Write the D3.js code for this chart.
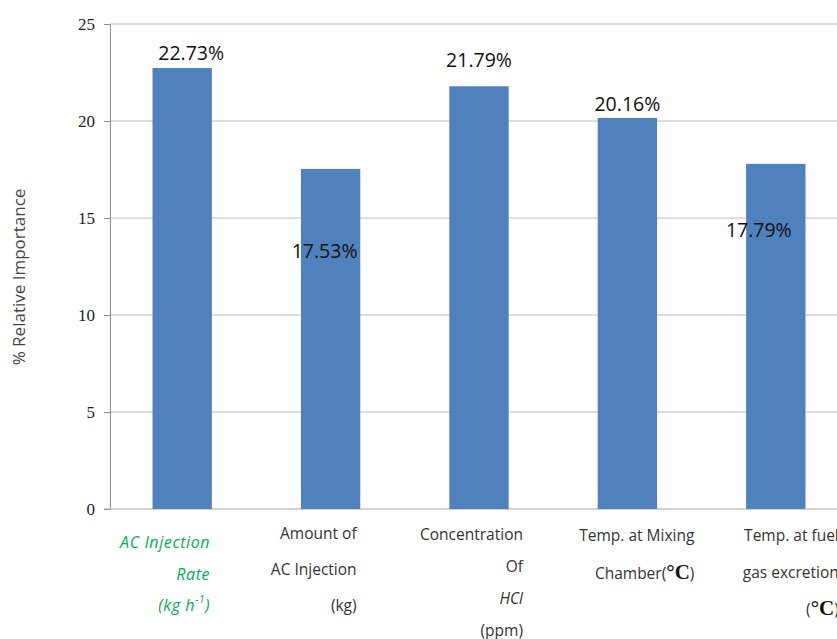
<!DOCTYPE html>
<html>

<head>
    <meta charset="UTF-8">
    <title>Relative importance</title>
    <style>
        body {
            margin: 0;
            background: #fff;
        }

        svg {
            display: block;
            overflow: hidden;
        }

        text.value {
            font-family: "Open Sans", sans-serif;
            font-size: 19.5px;
            fill: #111;
            text-anchor: middle;
        }

        text.cat {
            font-family: "Open Sans", sans-serif;
            font-size: 15.5px;
            fill: #333;
            text-anchor: end;
        }

        text.ytick {
            font-family: "Liberation Serif", "DejaVu Serif", serif;
            font-size: 17px;
            fill: #222;
        }
    </style>
</head>

<body>
    <svg id="chart" width="837" height="639"></svg>

    <script src="https://d3js.org/d3.v7.min.js"></script>

    <script>
        // values
        var categories = ["rate", "amount", "hcl", "mixing", "flue"];
        var importance = [22.73, 17.53, 21.79, 20.16, 17.79];
        var valueLabels = ["22.73%", "17.53%", "21.79%", "20.16%", "17.79%"];
        var yTicks = [0, 5, 10, 15, 20, 25];

        var svg = d3.select("#chart"),
            width = +svg.attr("width"),
            height = +svg.attr("height");

        // window.top is read-only, so the plot edges get their own names
        var plotLeft = 110, plotTop = 24, plotBottom = 509;

        var x = d3.scaleBand()
            .domain(categories)
            .range([plotLeft - 2, 850])
            .paddingInner(0.6)
            .paddingOuter(0.3);

        var y = d3.scaleLinear()
            .domain([0, 25])
            .range([plotBottom, plotTop]);

        // grid lines
        svg.append("g")
            .selectAll("line")
            .data(yTicks.filter(d => d > 0))
            .join("line")
            .attr("x1", plotLeft)
            .attr("x2", width)
            .attr("y1", d => y(d))
            .attr("y2", d => y(d))
            .attr("stroke", "#bcbcbc")
            .attr("stroke-width", 1);

        // y axis
        var yAxis = svg.append("g")
            .attr("transform", "translate(" + plotLeft + ",0)")
            .call(d3.axisLeft(y).tickValues(yTicks).tickSize(6).tickPadding(9).tickFormat(d3.format("d")));
        yAxis.attr("font-family", null).attr("font-size", null);
        yAxis.select(".domain").attr("stroke", "#8c8c8c");
        yAxis.selectAll(".tick line").attr("stroke", "#8c8c8c");
        yAxis.selectAll(".tick text").attr("class", "ytick").attr("fill", null);

        // baseline
        svg.append("line")
            .attr("x1", plotLeft - 6)
            .attr("x2", width)
            .attr("y1", y(0))
            .attr("y2", y(0))
            .attr("stroke", "#a6a6a6");

        // bars
        svg.append("g")
            .selectAll("rect")
            .data(importance)
            .join("rect")
            .attr("x", (d, i) => x(categories[i]))
            .attr("y", d => y(d))
            .attr("width", x.bandwidth())
            .attr("height", d => y(0) - y(d))
            .attr("fill", "#4f81bd");

        // data labels were placed by hand in the original
        var labelDx = [9, -6, 0, 0, -17];
        var labelDy = [-8, 89, -19, -7, 73];
        svg.append("g")
            .selectAll("text")
            .data(importance)
            .join("text")
            .attr("class", "value")
            .attr("x", (d, i) => x(categories[i]) + x.bandwidth() / 2 + labelDx[i])
            .attr("y", (d, i) => y(d) + labelDy[i])
            .text((d, i) => valueLabels[i]);

        // y title
        svg.append("text")
            .attr("transform", "translate(25,277) rotate(-90)")
            .attr("text-anchor", "middle")
            .style("font-family", "Open Sans, sans-serif")
            .style("font-size", "17px")
            .style("fill", "#444")
            .text("% Relative Importance");

        // category labels
        function catLabel(i, dx, lines) {
            var cx = x(categories[i]) + x.bandwidth() / 2 + dx;
            var t = svg.append("text").attr("class", "cat");
            lines.forEach(function (ln) {
                var line = t.append("tspan").attr("x", cx).attr("y", ln.y);
                ln.parts.forEach(function (p) {
                    var s = line.append("tspan").text(p.t);
                    if (p.style) s.attr("style", p.style);
                    if (p.dy) s.attr("dy", p.dy);
                });
            });
            return t;
        }

        var deg = "font-family: 'Liberation Serif', serif; font-size: 21px; font-weight: bold; fill: #111";

        catLabel(0, 28, [
            { y: 548, parts: [{ t: "AC Injection" }] },
            { y: 580, parts: [{ t: "Rate" }] },
            { y: 611, parts: [{ t: "(kg h" }, { t: "-1", dy: -8, style: "font-size: 10px" }, { t: ")", dy: 8 }] }
        ]).style("fill", "#00b050").style("font-style", "italic")
            .style("font-size", "16px").style("letter-spacing", "0.6px");

        catLabel(1, 26, [
            { y: 539, parts: [{ t: "Amount of" }] },
            { y: 575, parts: [{ t: "AC Injection" }] },
            { y: 611, parts: [{ t: "(kg)" }] }
        ]);

        catLabel(2, 44, [
            { y: 540, parts: [{ t: "Concentration" }] },
            { y: 572, parts: [{ t: "Of" }] },
            { y: 604, parts: [{ t: "HCl", style: "font-style: italic" }] },
            { y: 636, parts: [{ t: "(ppm)" }] }
        ]);

        catLabel(3, 67, [
            { y: 541, parts: [{ t: "Temp. at Mixing" }] },
            { y: 579, parts: [{ t: "Chamber(" }, { t: "°C", style: deg }, { t: ")" }] }
        ]);

        catLabel(4, 63, [
            { y: 541, parts: [{ t: "Temp. at fuel" }] },
            { y: 578, parts: [{ t: "gas excretion" }] },
            { y: 615, parts: [{ t: "(" }, { t: "°C", style: deg }, { t: ")" }] }
        ]);
    </script>

</body>

</html>
